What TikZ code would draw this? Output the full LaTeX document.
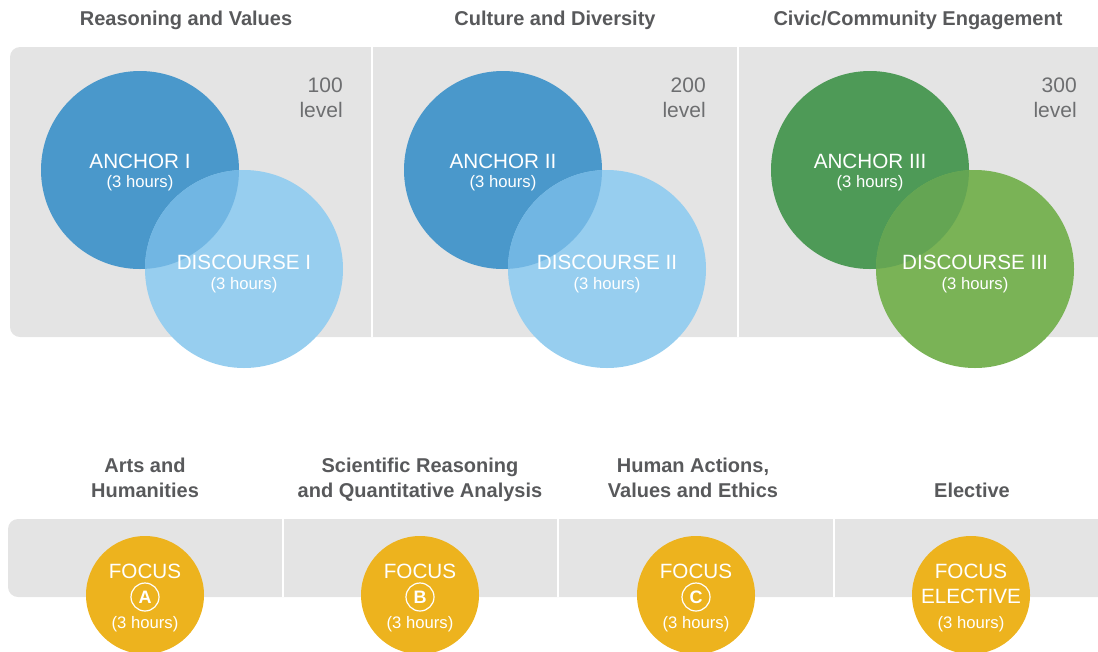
\documentclass[tikz,border=0pt]{standalone}
\usepackage{fontspec}
\setmainfont{Liberation Sans}
\usepackage{xcolor}
\usepackage{tikz}
\usetikzlibrary{positioning}

\definecolor{bandgray}{HTML}{E4E4E4}
\definecolor{headgray}{HTML}{58595B}
\definecolor{levelgray}{HTML}{6D6E70}
\definecolor{anchorblue}{HTML}{4A98CB}
\definecolor{discblue}{HTML}{97CEEF}
\definecolor{mixblue}{HTML}{71B6E3}
\definecolor{anchorgreen}{HTML}{4E9A57}
\definecolor{discgreen}{HTML}{7AB356}
\definecolor{mixgreen}{HTML}{64A553}
\definecolor{focusgold}{HTML}{EDB31E}

\begin{document}
\begin{tikzpicture}[
    x=0.75pt, y=-0.75pt,
    head/.style={font=\fontsize{15}{18.75}\selectfont\bfseries, text=headgray,
                 align=center, inner sep=0pt, anchor=base},
    level/.style={font=\fontsize{15.75}{19}\selectfont, text=levelgray,
                  inner sep=0pt, anchor=base east},
    anchorc/.style={circle, minimum size=148.5pt, inner sep=0pt},
    disc/.style 2 args={circle, minimum size=148.5pt, inner sep=0pt,
                        path picture={\fill[#2] (#1.center) circle[radius=99];}},
    cname/.style={font=\fontsize{15.5}{18}\selectfont, text=white, inner sep=0pt, anchor=base},
    hrs/.style={font=\fontsize{12.5}{15}\selectfont, text=white, inner sep=0pt, anchor=base},
    focus/.style={circle, fill=focusgold, minimum size=88.5pt, inner sep=0pt},
    ring/.style={circle, draw=white, line width=0.9pt, minimum size=21pt, inner sep=0pt,
                 text=white, font=\fontsize{13.5}{13.5}\selectfont\bfseries},
    divider/.style={draw=white, line width=1.5pt},
]
\useasboundingbox (0,0) rectangle (1098,651);
\clip (0,0) rectangle (1098,651);

% Grey bands with white column dividers
\fill[bandgray, rounded corners=7.5pt] (10,47) rectangle (1130,337);
\draw[divider] (372,47) -- (372,337);
\draw[divider] (738,47) -- (738,337);
\fill[bandgray, rounded corners=7.5pt] (8,519) rectangle (1130,597);
\draw[divider] (283,519) -- (283,597);
\draw[divider] (558,519) -- (558,597);
\draw[divider] (834,519) -- (834,597);

% Column headings (top row)
\node[head] (headRV) at (186,25) {Reasoning and Values};
\node[head] (headCD) at (555,25) {Culture and Diversity};
\node[head] (headCC) at (918,25) {Civic/Community Engagement};

% Level tags
\node[level] (lvlI)   at (343,92)  {100};
\node[level] (lvlIb)  at (343,117) {level};
\node[level] (lvlII)  at (706,92)  {200};
\node[level] (lvlIIb) at (706,117) {level};
\node[level] (lvlIII)  at (1077,92)  {300};
\node[level] (lvlIIIb) at (1077,117) {level};

% Anchor / discourse pairs
\node[anchorc, fill=anchorblue]  (anchorI)   at (140,170) {};
\node[disc={anchorI}{mixblue}, fill=discblue] (discI) at (244,269) {};
\node[anchorc, fill=anchorblue]  (anchorII)  at (503,170) {};
\node[disc={anchorII}{mixblue}, fill=discblue] (discII) at (607,269) {};
\node[anchorc, fill=anchorgreen] (anchorIII) at (870,170) {};
\node[disc={anchorIII}{mixgreen}, fill=discgreen] (discIII) at (975,269) {};

\node[cname] (anchorI-t)   at (140,168) {ANCHOR I};
\node[hrs]   (anchorI-h)   at (140,187) {(3 hours)};
\node[cname] (discI-t)     at (244,269) {DISCOURSE I};
\node[hrs]   (discI-h)     at (244,289) {(3 hours)};
\node[cname] (anchorII-t)  at (503,168) {ANCHOR II};
\node[hrs]   (anchorII-h)  at (503,187) {(3 hours)};
\node[cname] (discII-t)    at (607,269) {DISCOURSE II};
\node[hrs]   (discII-h)    at (607,289) {(3 hours)};
\node[cname] (anchorIII-t) at (870,168) {ANCHOR III};
\node[hrs]   (anchorIII-h) at (870,187) {(3 hours)};
\node[cname] (discIII-t)   at (975,269) {DISCOURSE III};
\node[hrs]   (discIII-h)   at (975,289) {(3 hours)};

% Focus headings (bottom row)
\node[head] (headAH) at (145,497) {Arts and\\Humanities};
\node[head] (headSR) at (420,497) {Scientific Reasoning\\and Quantitative Analysis};
\node[head] (headHA) at (693,497) {Human Actions,\\Values and Ethics};
\node[head] (headEL) at (972,497) {Elective};

% Focus circles
\node[focus] (focusA)  at (145,595) {};
\node[focus] (focusB)  at (420,595) {};
\node[focus] (focusC)  at (696,595) {};
\node[focus] (focusEL) at (971,595) {};

\node[cname] (focusA-t)  at (145,578) {FOCUS};
\node[ring]  (ringA)     at (145,597) {A};
\node[hrs]   (focusA-h)  at (145,628) {(3 hours)};
\node[cname] (focusB-t)  at (420,578) {FOCUS};
\node[ring]  (ringB)     at (420,597) {B};
\node[hrs]   (focusB-h)  at (420,628) {(3 hours)};
\node[cname] (focusC-t)  at (696,578) {FOCUS};
\node[ring]  (ringC)     at (696,597) {C};
\node[hrs]   (focusC-h)  at (696,628) {(3 hours)};
\node[cname] (focusEL-t) at (971,578) {FOCUS};
\node[cname] (focusEL-e) at (971,603) {ELECTIVE};
\node[hrs]   (focusEL-h) at (971,628) {(3 hours)};
\end{tikzpicture}
\end{document}
